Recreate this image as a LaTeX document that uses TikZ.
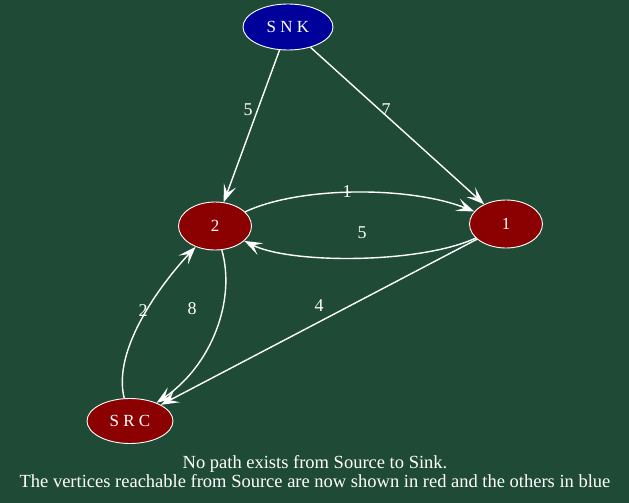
\documentclass[tikz,border=0pt]{standalone}
\usepackage{fontspec}
\setmainfont{Liberation Serif}
\usetikzlibrary{arrows.meta,shapes.geometric}
\definecolor{bgc}{RGB}{31,75,54}
\definecolor{redn}{RGB}{139,0,0}
\definecolor{bluen}{RGB}{0,0,155}
\begin{document}
\begin{tikzpicture}[x=1pt,y=-1pt,
  vert/.style={ellipse,draw=white,line width=0.9pt,text=white,inner sep=0pt,font=\fontsize{17}{19}\selectfont},
  edge/.style={draw=white,line width=1.4pt,-{Stealth[length=18pt,width=13pt,inset=8pt]}},
  elab/.style={text=white,font=\fontsize{18}{20}\selectfont,inner sep=0pt}]
\fill[bgc] (0,0) rectangle (629,503);
\useasboundingbox (0,0) rectangle (629,503);
\node[vert,fill=bluen,minimum width=90pt,minimum height=46pt] (snk) at (288,27) {S N K};
\node[vert,fill=redn,minimum width=73pt,minimum height=48pt] (n2) at (215,226) {2};
\node[vert,fill=redn,minimum width=73pt,minimum height=48pt] (n1) at (506,224) {1};
\node[vert,fill=redn,minimum width=86pt,minimum height=45pt] (src) at (130,421) {S R C};
\draw[edge] (snk) -- (n2);
\draw[edge] (snk) -- (n1);
\draw[edge] (n2) .. controls (300,186) and (410,186) .. (n1);
\draw[edge] (n1) .. controls (420,264) and (290,264) .. (n2);
\draw[edge] (n1) -- (src);
\draw[edge] (n2) .. controls (236,300) and (212,365) .. (src);
\draw[edge] (src) .. controls (112,350) and (160,285) .. (n2);
\node[elab] (l5a) at (248,110) {5};
\node[elab] (l7) at (386,110) {7};
\node[elab] (l1) at (347,192) {1};
\node[elab] (l5b) at (362,233) {5};
\node[elab] (l4) at (319,306) {4};
\node[elab] (l8) at (192,309) {8};
\node[elab] (l2) at (143,311) {2};
\node[elab,align=center,font=\fontsize{18.5}{19}\selectfont] (cap) at (315,472) {No path exists from Source to Sink.\\The vertices reachable from Source are now shown in red and the others in blue};
\end{tikzpicture}
\end{document}
